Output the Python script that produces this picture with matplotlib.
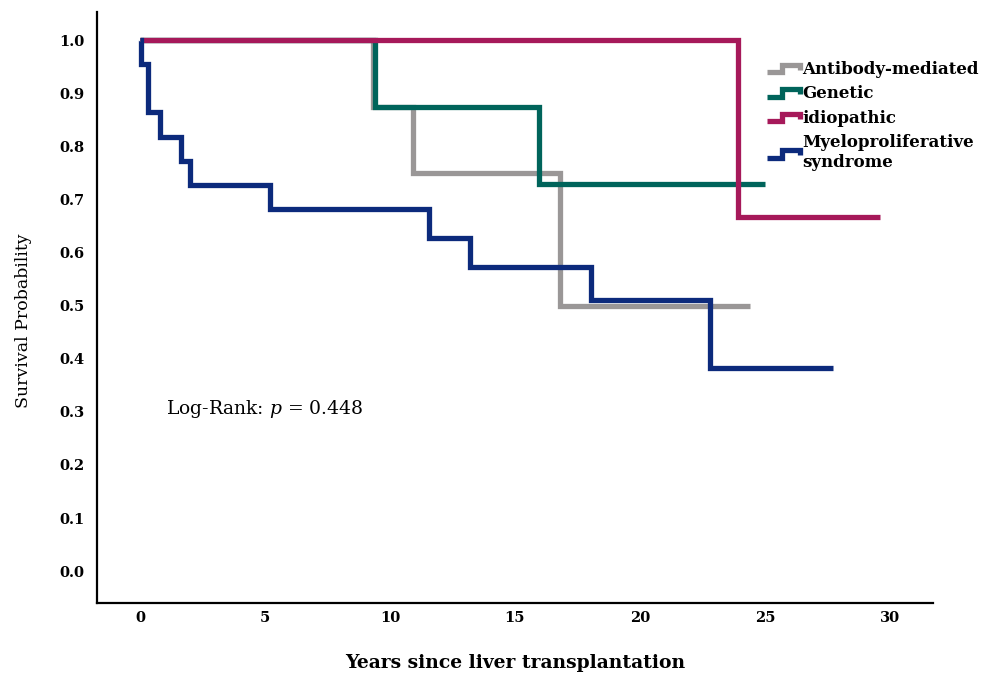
import matplotlib
matplotlib.use("Agg")
import matplotlib.pyplot as plt
from matplotlib.legend_handler import HandlerBase
from matplotlib.lines import Line2D

# ---- data ----
ab_time = [0, 9.3, 10.9, 16.8, 24.4]
ab_surv = [1.0, 0.875, 0.75, 0.50, 0.50]

gen_time = [0, 9.4, 15.96, 25.0]
gen_surv = [1.0, 0.875, 0.729, 0.729]

idio_time = [0, 23.9, 29.6]
idio_surv = [1.0, 0.667, 0.667]

mps_time = [0, 0.05, 0.33, 0.8, 1.63, 2.0, 5.2, 11.56, 13.2, 18.03, 22.8, 27.7]
mps_surv = [1.0, 0.955, 0.864, 0.818, 0.773, 0.727, 0.682, 0.627, 0.573, 0.510, 0.382, 0.382]

labels = ["Antibody-mediated", "Genetic", "idiopathic", "Myeloproliferative\nsyndrome"]
colors = ["#9a9797", "#00645b", "#a6195a", "#0c2a7c"]

x_ticks = [0, 5, 10, 15, 20, 25, 30]
y_ticks = [0.0, 0.1, 0.2, 0.3, 0.4, 0.5, 0.6, 0.7, 0.8, 0.9, 1.0]

plt.rcParams['font.family'] = ['DejaVu Serif']
plt.rcParams['mathtext.fontset'] = 'dejavuserif'

fig = plt.figure(figsize=(9.93, 6.77), dpi=100)
ax = fig.add_axes([97/993, (677-603)/677, (933-97)/993, (603-12)/677])

lw = 3.8
series = [(ab_time, ab_surv), (gen_time, gen_surv), (idio_time, idio_surv), (mps_time, mps_surv)]
handles = []
for (t, s), c, lab in zip(series, colors, labels):
    ln, = ax.step(t, s, where='post', color=c, lw=lw, solid_joinstyle='miter',
                  solid_capstyle='butt', label=lab)
    handles.append(ln)

ax.set_xlim(-1.72, 31.72)
ax.set_ylim(-0.06, 1.053)
ax.set_xticks(x_ticks)
ax.set_xticklabels([str(v) for v in x_ticks])
ax.set_yticks(y_ticks)
ax.set_yticklabels([f"{v:.1f}" for v in y_ticks])
ax.tick_params(length=0, labelsize=10.5)
ax.tick_params(axis='x', pad=6)
ax.tick_params(axis='y', pad=9)
for lab in ax.get_xticklabels() + ax.get_yticklabels():
    lab.set_fontweight('bold')
ax.spines['top'].set_visible(False)
ax.spines['right'].set_visible(False)
ax.spines['left'].set_linewidth(1.6)
ax.spines['bottom'].set_linewidth(1.6)

ax.set_xlabel("Years since liver transplantation", fontsize=13.5, fontweight='bold', labelpad=21)
ax.set_ylabel("Survival Probability", fontsize=12.5)
ax.yaxis.set_label_coords(-0.078, 0.477)

ax.text(1.05, 0.305, "Log-Rank: $p$ = 0.448", fontsize=13.5, va='center', ha='left')


class StepHandler(HandlerBase):
    def create_artists(self, legend, orig_handle, xdescent, ydescent, width, height, fontsize, trans):
        xs = [0, 0.45 * width, 0.45 * width, 0.95 * width, 0.95 * width]
        ys = [0.1 * height, 0.1 * height, 0.75 * height, 0.75 * height, 0.35 * height]
        xs = [x - xdescent for x in xs]
        ys = [y - ydescent for y in ys]
        l = Line2D(xs, ys, color=orig_handle.get_color(), lw=lw, solid_joinstyle='miter',
                   solid_capstyle='butt', transform=trans)
        return [l]


leg = ax.legend(handles=handles, labels=labels, handler_map={Line2D: StepHandler()},
                loc='upper left', bbox_to_anchor=(0.793, 0.929), frameon=False,
                prop={'weight': 'bold', 'size': 12}, handlelength=2.1, handletextpad=0.05,
                labelspacing=0.45, borderaxespad=0)

fig.savefig("out.png", dpi=100)
